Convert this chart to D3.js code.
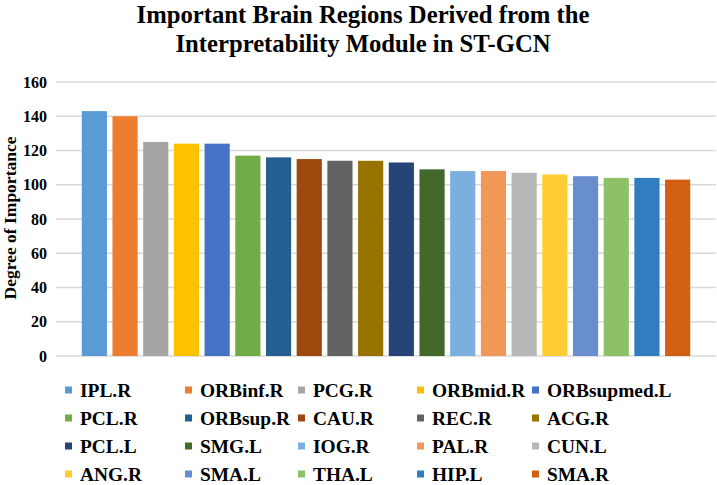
<!DOCTYPE html>
<html>
<head>
<meta charset="utf-8">
<script src="https://cdn.jsdelivr.net/npm/d3@7"></script>
<style>
  body { margin: 0; background: #fff; }
  text { font-family: "Liberation Serif", "Times New Roman", serif; font-weight: bold; fill: #000; }
</style>
</head>
<body>
<div class="chart"></div>
<script>
var regions = ["IPL.R", "ORBinf.R", "PCG.R", "ORBmid.R", "ORBsupmed.L",
  "PCL.R", "ORBsup.R", "CAU.R", "REC.R", "ACG.R",
  "PCL.L", "SMG.L", "IOG.R", "PAL.R", "CUN.L",
  "ANG.R", "SMA.L", "THA.L", "HIP.L", "SMA.R"];
var importance = [143, 140, 125, 124, 124, 117, 116, 115, 114, 114,
  113, 109, 108, 108, 107, 106, 105, 104, 104, 103];
var colors = ["#5B9BD5", "#ED7D31", "#A5A5A5", "#FFC000", "#4472C4",
  "#70AD47", "#255E91", "#9E480E", "#636363", "#997300",
  "#264478", "#43682B", "#7CAFDD", "#F1975A", "#B7B7B7",
  "#FFCD33", "#698ED0", "#8CC168", "#327DC2", "#D26012"];
var yTicks = [0, 20, 40, 60, 80, 100, 120, 140, 160];
var titleLines = ["Important Brain Regions Derived from the", "Interpretability Module in ST-GCN"];

var width = 717, height = 485;

var svg = d3.select(".chart").append("svg")
    .attr("width", width)
    .attr("height", height);

// title
svg.selectAll(".title")
    .data(titleLines)
  .enter().append("text")
    .attr("class", "title")
    .attr("x", 363)
    .attr("y", function(d, i){ return 23 + i * 29 })
    .attr("text-anchor", "middle")
    .style("font-size", "24.7px")
    .text(function(d){ return d });

var x = d3.scaleBand()
    .domain(regions)
    .range([79, 693])
    .paddingInner(0.18)
    .paddingOuter(0.09);

var y = d3.scaleLinear()
    .domain([0, 160])
    .range([356, 82]);

// grid
svg.selectAll(".grid")
    .data(yTicks)
  .enter().append("line")
    .attr("class", "grid")
    .attr("x1", 56)
    .attr("x2", 716)
    .attr("y1", function(d){ return y(d) })
    .attr("y2", function(d){ return y(d) })
    .style("stroke", "#d9d9d9")
    .style("stroke-width", 1.3);

var yAxis = svg.append("g")
    .attr("transform", "translate(47,0)")
    .call(d3.axisLeft(y).tickValues(yTicks).tickSize(0).tickPadding(0));
yAxis.select(".domain").remove();
yAxis.selectAll("text")
    .attr("font-family", null)
    .style("font-size", "16px");

svg.append("text")
    .attr("transform", "translate(16,218) rotate(-90)")
    .attr("text-anchor", "middle")
    .style("font-size", "17.5px")
    .text("Degree of Importance");

// bars
svg.selectAll(".bar")
    .data(importance)
  .enter().append("rect")
    .attr("class", "bar")
    .attr("x", function(d, i){ return x(regions[i]) })
    .attr("width", x.bandwidth())
    .attr("y", function(d){ return y(d) })
    .attr("height", function(d){ return y(0) - y(d) })
    .style("fill", function(d, i){ return colors[i] });

// legend, 5 columns x 4 rows
var colX = [65, 185, 298, 417, 532];
var legend = svg.selectAll(".legend")
    .data(regions)
  .enter().append("g")
    .attr("class", "legend")
    .attr("transform", function(d, i){
      return "translate(" + colX[i % 5] + "," + (390 + Math.floor(i / 5) * 28) + ")";
    });

legend.append("rect")
    .attr("x", 0)
    .attr("y", -3.5)
    .attr("width", 7)
    .attr("height", 7)
    .style("fill", function(d, i){ return colors[i] });

legend.append("text")
    .attr("x", 15)
    .attr("y", 6.5)
    .style("font-size", "19.4px")
    .text(function(d){ return d });
</script>
</body>
</html>
